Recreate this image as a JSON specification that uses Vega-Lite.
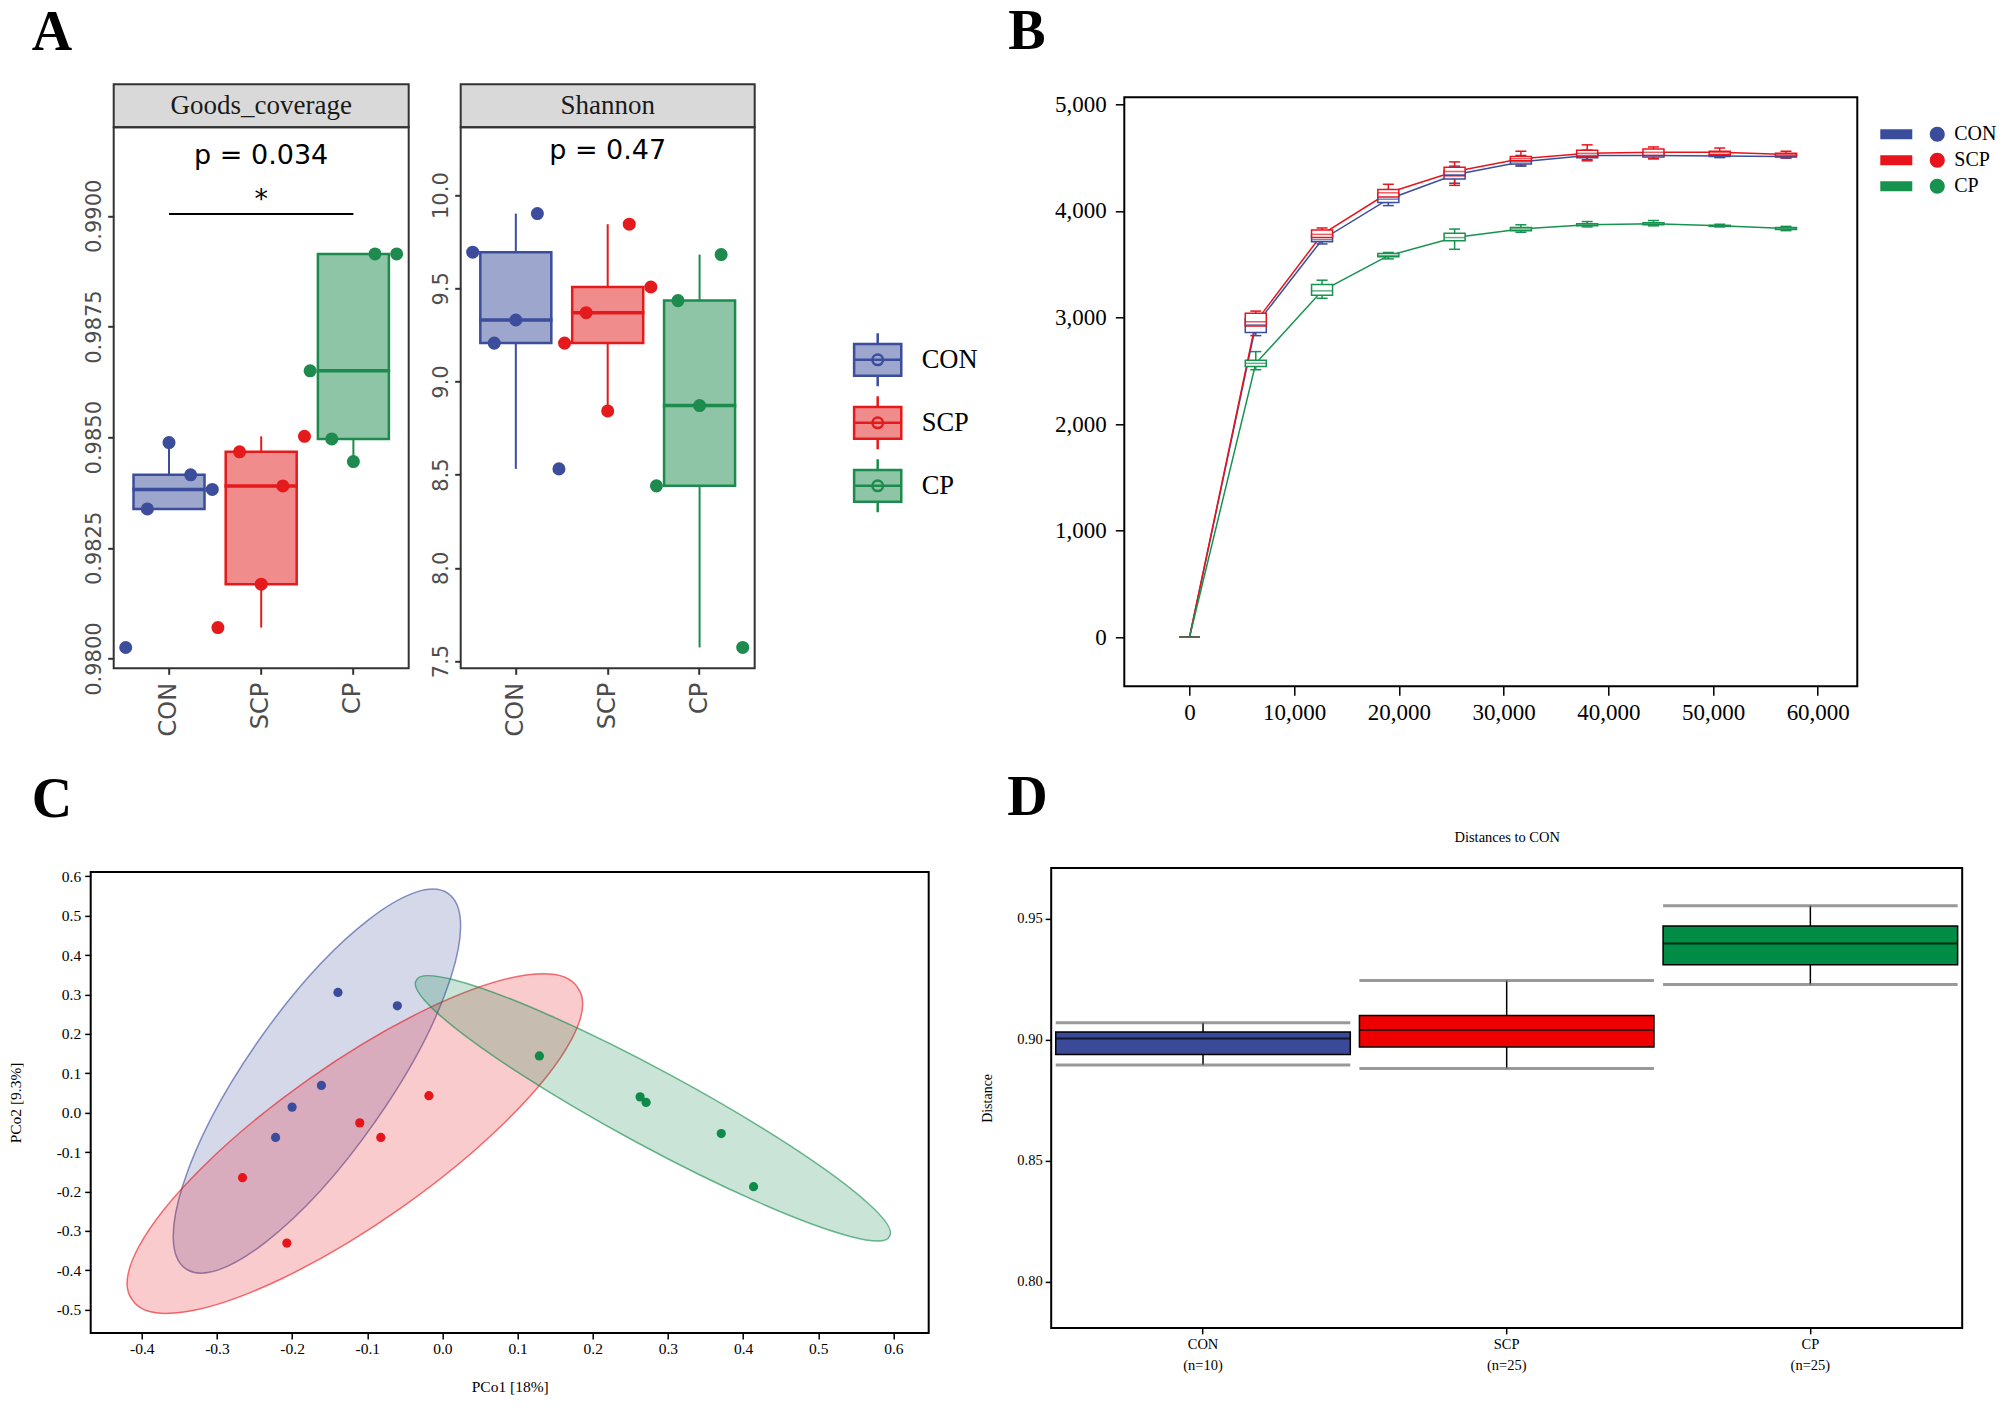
{
  "$schema": "https://vega.github.io/schema/vega-lite/v6.json",
  "background": "white",
  "padding": {"left": 6.7, "top": 2.3, "right": 0, "bottom": 0},
  "spacing": 30.6,
  "resolve": {
    "scale": {"color": "independent", "stroke": "independent", "shape": "independent", "xOffset": "independent"},
    "legend": {"color": "independent", "stroke": "independent", "shape": "independent"}
  },
  "config": {
    "view": {"stroke": null},
    "axis": {"grid": false, "domain": false, "labelColor": "#000", "tickColor": "#000", "titleColor": "#000", "titleFontWeight": "normal"},
    "title": {"color": "#000"}
  },
  "vconcat": [
    {
      "spacing": 28.6,
      "resolve": {
        "scale": {"color": "independent", "stroke": "independent", "shape": "independent", "xOffset": "independent"},
        "legend": {"color": "independent", "stroke": "independent", "shape": "independent"}
      },
      "hconcat": [
        {
          "columns": 4,
          "bounds": "flush",
          "spacing": 0,
          "resolve": {
            "scale": {"x": "independent", "y": "independent", "color": "independent", "stroke": "independent", "xOffset": "independent"},
            "legend": {"color": "independent", "stroke": "independent"}
          },
          "concat": [
            {"width": 23, "height": 43, "data": {"values": [{"s": 0}]}, "mark": {"type": "text", "text": " "}},
            {
              "width": 295, "height": 43,
              "view": {"fill": "#d9d9d9", "stroke": "#333333", "strokeWidth": 2},
              "title": {"text": "A", "anchor": "start", "frame": "group", "dx": -82, "offset": -21.2, "baseline": "alphabetic", "font": "Liberation Serif", "fontSize": 56, "fontWeight": "bold"},
              "data": {"values": [{"facet": "Goods_coverage"}]},
              "mark": {"type": "text", "font": "Liberation Serif", "fontSize": 27, "color": "#1a1a1a"},
              "encoding": {"text": {"field": "facet", "type": "nominal"}}
            },
            {"width": 52, "height": 43, "data": {"values": [{"s": 0}]}, "mark": {"type": "text", "text": " "}},
            {
              "width": 294, "height": 43,
              "view": {"fill": "#d9d9d9", "stroke": "#333333", "strokeWidth": 2},
              "data": {"values": [{"facet": "Shannon"}]},
              "mark": {"type": "text", "font": "Liberation Serif", "fontSize": 27, "color": "#1a1a1a"},
              "encoding": {"text": {"field": "facet", "type": "nominal"}}
            },
            {"width": 23, "height": 541, "data": {"values": [{"s": 0}]}, "mark": {"type": "text", "text": " "}},
            {
              "width": 295, "height": 541,
              "view": {"stroke": "#333333", "strokeWidth": 2},
              "data": {"values": [
                {"group": "CON", "rep": 1, "value": 0.98025},
                {"group": "CON", "rep": 2, "value": 0.98338},
                {"group": "CON", "rep": 3, "value": 0.98488},
                {"group": "CON", "rep": 4, "value": 0.98415},
                {"group": "CON", "rep": 5, "value": 0.98382},
                {"group": "SCP", "rep": 1, "value": 0.98070},
                {"group": "SCP", "rep": 2, "value": 0.98467},
                {"group": "SCP", "rep": 3, "value": 0.98168},
                {"group": "SCP", "rep": 4, "value": 0.98390},
                {"group": "SCP", "rep": 5, "value": 0.98502},
                {"group": "CP", "rep": 1, "value": 0.98650},
                {"group": "CP", "rep": 2, "value": 0.98496},
                {"group": "CP", "rep": 3, "value": 0.98445},
                {"group": "CP", "rep": 4, "value": 0.98914},
                {"group": "CP", "rep": 5, "value": 0.98914}
              ]},
              "encoding": {
                "x": {"field": "group", "type": "nominal", "scale": {"domain": ["CON", "SCP", "CP"], "paddingInner": 0, "paddingOuter": 0.1},
                      "axis": {"title": null, "labelAngle": 270, "labelAlign": "right", "labelBaseline": "middle", "labelFont": "DejaVu Sans", "labelFontSize": 24, "labelColor": "#4d4d4d", "tickColor": "#333333", "tickSize": 6, "tickWidth": 2, "labelPadding": 8}},
                "y": {"field": "value", "type": "quantitative", "scale": {"domain": [0.97978, 0.992], "zero": false, "nice": false},
                      "axis": {"title": null, "values": [0.98, 0.9825, 0.985, 0.9875, 0.99], "format": ".4f", "labelAngle": 270, "labelAlign": "center", "labelBaseline": "bottom", "labelFont": "DejaVu Sans", "labelFontSize": 21, "labelColor": "#4d4d4d", "tickColor": "#333333", "tickSize": 6, "tickWidth": 2, "labelPadding": 3}}
              },
              "layer": [
                {
                  "mark": {"type": "boxplot", "extent": 1.5, "size": 71, "outliers": false, "box": {"fillOpacity": 0.5, "strokeWidth": 2.5}, "median": {"fillOpacity": 0, "strokeWidth": 2.5, "thickness": 1}, "rule": {"strokeWidth": 2}},
                  "encoding": {
                    "color": {"field": "group", "type": "nominal", "scale": {"domain": ["CON", "SCP", "CP"], "range": ["#3B4D9B", "#E41A1C", "#1C8B4D"]}, "legend": null},
                    "stroke": {"field": "group", "type": "nominal", "scale": {"domain": ["CON", "SCP", "CP"], "range": ["#3B4D9B", "#E41A1C", "#1C8B4D"]}, "legend": null}
                  }
                },
                {
                  "mark": {"type": "circle", "size": 170, "opacity": 1},
                  "encoding": {
                    "xOffset": {"field": "rep", "type": "ordinal", "scale": {"paddingInner": 0, "paddingOuter": 0.13}},
                    "color": {"field": "group", "type": "nominal", "scale": {"domain": ["CON", "SCP", "CP"], "range": ["#3B4D9B", "#E41A1C", "#1C8B4D"]}, "legend": null}
                  }
                },
                {
                  "data": {"values": [{"group": "CON", "group2": "CP", "value": 0.99004}]},
                  "mark": {"type": "rule", "strokeWidth": 2, "color": "#000"},
                  "encoding": {"x2": {"field": "group2"}}
                },
                {
                  "data": {"values": [{"group": "SCP", "value": 0.99035, "label": "*"}, {"group": "SCP", "value": 0.99135, "label": "p = 0.034"}]},
                  "mark": {"type": "text", "font": "DejaVu Sans", "fontSize": 27, "color": "#000"},
                  "encoding": {"text": {"field": "label", "type": "nominal"}}
                }
              ]
            },
            {"width": 52, "height": 541, "data": {"values": [{"s": 0}]}, "mark": {"type": "text", "text": " "}},
            {
              "width": 294, "height": 541,
              "view": {"stroke": "#333333", "strokeWidth": 2},
              "data": {"values": [
                {"group": "CON", "rep": 1, "value": 9.694},
                {"group": "CON", "rep": 2, "value": 9.206},
                {"group": "CON", "rep": 3, "value": 9.330},
                {"group": "CON", "rep": 4, "value": 9.901},
                {"group": "CON", "rep": 5, "value": 8.531},
                {"group": "SCP", "rep": 1, "value": 9.206},
                {"group": "SCP", "rep": 2, "value": 9.369},
                {"group": "SCP", "rep": 3, "value": 8.842},
                {"group": "SCP", "rep": 4, "value": 9.844},
                {"group": "SCP", "rep": 5, "value": 9.507},
                {"group": "CP", "rep": 1, "value": 8.440},
                {"group": "CP", "rep": 2, "value": 9.434},
                {"group": "CP", "rep": 3, "value": 8.871},
                {"group": "CP", "rep": 4, "value": 9.681},
                {"group": "CP", "rep": 5, "value": 7.573}
              ]},
              "encoding": {
                "x": {"field": "group", "type": "nominal", "scale": {"domain": ["CON", "SCP", "CP"], "paddingInner": 0, "paddingOuter": 0.1},
                      "axis": {"title": null, "labelAngle": 270, "labelAlign": "right", "labelBaseline": "middle", "labelFont": "DejaVu Sans", "labelFontSize": 24, "labelColor": "#4d4d4d", "tickColor": "#333333", "tickSize": 6, "tickWidth": 2, "labelPadding": 8}},
                "y": {"field": "value", "type": "quantitative", "scale": {"domain": [7.461, 10.364], "zero": false, "nice": false},
                      "axis": {"title": null, "values": [7.5, 8, 8.5, 9, 9.5, 10], "format": ".1f", "labelAngle": 270, "labelAlign": "center", "labelBaseline": "bottom", "labelFont": "DejaVu Sans", "labelFontSize": 21, "labelColor": "#4d4d4d", "tickColor": "#333333", "tickSize": 6, "tickWidth": 2, "labelPadding": 3}}
              },
              "layer": [
                {
                  "mark": {"type": "boxplot", "extent": 1.5, "size": 71, "outliers": false, "box": {"fillOpacity": 0.5, "strokeWidth": 2.5}, "median": {"fillOpacity": 0, "strokeWidth": 2.5, "thickness": 1}, "rule": {"strokeWidth": 2}},
                  "encoding": {
                    "color": {"field": "group", "type": "nominal", "scale": {"domain": ["CON", "SCP", "CP"], "range": ["#3B4D9B", "#E41A1C", "#1C8B4D"]},
                              "legend": {"orient": "none", "legendX": 389, "legendY": 204.5, "title": null, "symbolType": "M-0.89,-0.6H0.89V0.6H-0.89ZM-0.89,0H0.89M0,-0.6V-1M0,0.6V1M0.2,0A0.2,0.2,0,1,1,-0.2,0A0.2,0.2,0,1,1,0.2,0Z", "symbolSize": 2809, "symbolStrokeWidth": 2.5, "labelFont": "Liberation Serif", "labelFontSize": 26.5, "labelColor": "#000", "rowPadding": -1, "labelOffset": 16, "padding": 0, "symbolOpacity": 1, "encode": {"symbols": {"update": {"fillOpacity": {"value": 0.5}}}}}},
                    "stroke": {"field": "group", "type": "nominal", "scale": {"domain": ["CON", "SCP", "CP"], "range": ["#3B4D9B", "#E41A1C", "#1C8B4D"]},
                              "legend": {"orient": "none", "legendX": 389, "legendY": 204.5, "title": null, "symbolType": "M-0.89,-0.6H0.89V0.6H-0.89ZM-0.89,0H0.89M0,-0.6V-1M0,0.6V1M0.2,0A0.2,0.2,0,1,1,-0.2,0A0.2,0.2,0,1,1,0.2,0Z", "symbolSize": 2809, "symbolStrokeWidth": 2.5, "labelFont": "Liberation Serif", "labelFontSize": 26.5, "labelColor": "#000", "rowPadding": -1, "labelOffset": 16, "padding": 0, "symbolOpacity": 1, "encode": {"symbols": {"update": {"fillOpacity": {"value": 0.5}}}}}}
                  }
                },
                {
                  "mark": {"type": "circle", "size": 170, "opacity": 1},
                  "encoding": {
                    "xOffset": {"field": "rep", "type": "ordinal", "scale": {"paddingInner": 0, "paddingOuter": 0.13}},
                    "color": {"field": "group", "type": "nominal", "scale": {"domain": ["CON", "SCP", "CP"], "range": ["#3B4D9B", "#E41A1C", "#1C8B4D"]},
                              "legend": {"orient": "none", "legendX": 389, "legendY": 204.5, "title": null, "symbolType": "M-0.89,-0.6H0.89V0.6H-0.89ZM-0.89,0H0.89M0,-0.6V-1M0,0.6V1M0.2,0A0.2,0.2,0,1,1,-0.2,0A0.2,0.2,0,1,1,0.2,0Z", "symbolSize": 2809, "symbolStrokeWidth": 2.5, "labelFont": "Liberation Serif", "labelFontSize": 26.5, "labelColor": "#000", "rowPadding": -1, "labelOffset": 16, "padding": 0, "symbolOpacity": 1, "encode": {"symbols": {"update": {"fillOpacity": {"value": 0.5}}}}}}
                  }
                },
                {
                  "data": {"values": [{"group": "SCP", "value": 10.239, "label": "p = 0.47"}]},
                  "mark": {"type": "text", "font": "DejaVu Sans", "fontSize": 27, "color": "#000"},
                  "encoding": {"text": {"field": "label", "type": "nominal"}}
                }
              ]
            }
          ]
        },
        {
          "bounds": "flush",
          "spacing": 0,
          "vconcat": [
            {"width": 733, "height": 13, "data": {"values": [{"s": 0}]}, "mark": {"type": "text", "text": " "}},
            {
              "width": 733, "height": 589,
              "view": {"stroke": "#000", "strokeWidth": 2},
              "title": {"text": "B", "anchor": "start", "frame": "group", "dx": -116, "offset": -11.9, "baseline": "alphabetic", "font": "Liberation Serif", "fontSize": 56, "fontWeight": "bold"},
              "data": {"values": [
                {"depth": 0, "group": "CON", "min": 0, "q1": 0, "median": 0, "q3": 0, "max": 0},
                {"depth": 6330, "group": "CON", "min": 2830, "q1": 2860, "median": 2930, "q3": 2990, "max": 3010},
                {"depth": 12660, "group": "CON", "min": 3690, "q1": 3710, "median": 3730, "q3": 3770, "max": 3790},
                {"depth": 18990, "group": "CON", "min": 4050, "q1": 4080, "median": 4110, "q3": 4160, "max": 4200},
                {"depth": 25320, "group": "CON", "min": 4260, "q1": 4300, "median": 4340, "q3": 4380, "max": 4420},
                {"depth": 31650, "group": "CON", "min": 4420, "q1": 4440, "median": 4460, "q3": 4490, "max": 4520},
                {"depth": 37980, "group": "CON", "min": 4480, "q1": 4500, "median": 4520, "q3": 4540, "max": 4570},
                {"depth": 44310, "group": "CON", "min": 4490, "q1": 4505, "median": 4520, "q3": 4540, "max": 4560},
                {"depth": 50640, "group": "CON", "min": 4500, "q1": 4510, "median": 4515, "q3": 4525, "max": 4540},
                {"depth": 56970, "group": "CON", "min": 4495, "q1": 4505, "median": 4510, "q3": 4520, "max": 4535},
                {"depth": 0, "group": "SCP", "min": 0, "q1": 0, "median": 0, "q3": 0, "max": 0},
                {"depth": 6330, "group": "SCP", "min": 2900, "q1": 2920, "median": 2960, "q3": 3040, "max": 3060},
                {"depth": 12660, "group": "SCP", "min": 3720, "q1": 3750, "median": 3780, "q3": 3820, "max": 3840},
                {"depth": 18990, "group": "SCP", "min": 4080, "q1": 4130, "median": 4170, "q3": 4200, "max": 4250},
                {"depth": 25320, "group": "SCP", "min": 4240, "q1": 4330, "median": 4370, "q3": 4410, "max": 4460},
                {"depth": 31650, "group": "SCP", "min": 4430, "q1": 4470, "median": 4490, "q3": 4510, "max": 4560},
                {"depth": 37980, "group": "SCP", "min": 4470, "q1": 4510, "median": 4540, "q3": 4570, "max": 4620},
                {"depth": 44310, "group": "SCP", "min": 4490, "q1": 4520, "median": 4550, "q3": 4580, "max": 4600},
                {"depth": 50640, "group": "SCP", "min": 4510, "q1": 4530, "median": 4550, "q3": 4560, "max": 4590},
                {"depth": 56970, "group": "SCP", "min": 4500, "q1": 4515, "median": 4530, "q3": 4540, "max": 4560},
                {"depth": 0, "group": "CP", "min": 0, "q1": 0, "median": 0, "q3": 0, "max": 0},
                {"depth": 6330, "group": "CP", "min": 2510, "q1": 2540, "median": 2570, "q3": 2600, "max": 2680},
                {"depth": 12660, "group": "CP", "min": 3180, "q1": 3210, "median": 3250, "q3": 3310, "max": 3350},
                {"depth": 18990, "group": "CP", "min": 3550, "q1": 3570, "median": 3580, "q3": 3600, "max": 3610},
                {"depth": 25320, "group": "CP", "min": 3640, "q1": 3720, "median": 3750, "q3": 3790, "max": 3830},
                {"depth": 31650, "group": "CP", "min": 3800, "q1": 3815, "median": 3830, "q3": 3845, "max": 3870},
                {"depth": 37980, "group": "CP", "min": 3850, "q1": 3860, "median": 3870, "q3": 3880, "max": 3900},
                {"depth": 44310, "group": "CP", "min": 3860, "q1": 3870, "median": 3880, "q3": 3890, "max": 3910},
                {"depth": 50640, "group": "CP", "min": 3850, "q1": 3855, "median": 3860, "q3": 3865, "max": 3875},
                {"depth": 56970, "group": "CP", "min": 3815, "q1": 3825, "median": 3835, "q3": 3845, "max": 3855}
              ]},
              "encoding": {
                "x": {"field": "depth", "type": "quantitative", "scale": {"domain": [-5750, 63300], "nice": false, "zero": false},
                      "axis": {"title": null, "values": [0, 10000, 20000, 30000, 40000, 50000, 60000], "format": ",.0f", "labelFont": "Liberation Serif", "labelFontSize": 23, "tickSize": 9, "tickWidth": 1.5, "labelPadding": 6}},
                "color": {"field": "group", "type": "nominal", "scale": {"domain": ["CON", "SCP", "CP"], "range": ["#3A4D9C", "#E8141B", "#17924F"]},
                          "legend": {"orient": "none", "legendX": 803, "legendY": 40, "title": null, "symbolType": "M-5.7,-0.5H-2.5V0.5H-5.7ZM0.75,0A0.75,0.75,0,1,1,-0.75,0A0.75,0.75,0,1,1,0.75,0Z", "symbolSize": 400, "symbolStrokeWidth": 0, "symbolOpacity": 1, "labelFont": "Liberation Serif", "labelFontSize": 20, "labelColor": "#000", "rowPadding": 6, "labelOffset": 7, "padding": 0}}
              },
              "layer": [
                {"mark": {"type": "tick", "orient": "horizontal", "size": 11, "thickness": 1.5, "opacity": 1},
                 "encoding": {"y": {"field": "min", "type": "quantitative", "scale": {"domain": [-460, 5066], "nice": false, "zero": false}, "axis": {"title": null, "values": [0, 1000, 2000, 3000, 4000, 5000], "format": ",.0f", "labelFont": "Liberation Serif", "labelFontSize": 23, "tickSize": 9, "tickWidth": 1.5, "labelPadding": 9}}}},
                {"mark": {"type": "tick", "orient": "horizontal", "size": 11, "thickness": 1.5, "opacity": 1},
                 "encoding": {"y": {"field": "max", "type": "quantitative", "scale": {"domain": [-460, 5066], "nice": false, "zero": false}, "axis": {"title": null, "values": [0, 1000, 2000, 3000, 4000, 5000], "format": ",.0f", "labelFont": "Liberation Serif", "labelFontSize": 23, "tickSize": 9, "tickWidth": 1.5, "labelPadding": 9}}}},
                {"mark": {"type": "line", "strokeWidth": 1.5},
                 "encoding": {"y": {"field": "median", "type": "quantitative", "scale": {"domain": [-460, 5066], "nice": false, "zero": false}, "axis": {"title": null, "values": [0, 1000, 2000, 3000, 4000, 5000], "format": ",.0f", "labelFont": "Liberation Serif", "labelFontSize": 23, "tickSize": 9, "tickWidth": 1.5, "labelPadding": 9}}}},
                {"mark": {"type": "rule", "strokeWidth": 1.5},
                 "encoding": {"y": {"field": "min", "type": "quantitative", "scale": {"domain": [-460, 5066], "nice": false, "zero": false}, "axis": {"title": null, "values": [0, 1000, 2000, 3000, 4000, 5000], "format": ",.0f", "labelFont": "Liberation Serif", "labelFontSize": 23, "tickSize": 9, "tickWidth": 1.5, "labelPadding": 9}}, "y2": {"field": "max"}}},
                {"mark": {"type": "bar", "width": 21, "filled": false, "fill": "white", "strokeWidth": 1.5},
                 "encoding": {"y": {"field": "q1", "type": "quantitative", "scale": {"domain": [-460, 5066], "nice": false, "zero": false}, "axis": {"title": null, "values": [0, 1000, 2000, 3000, 4000, 5000], "format": ",.0f", "labelFont": "Liberation Serif", "labelFontSize": 23, "tickSize": 9, "tickWidth": 1.5, "labelPadding": 9}}, "y2": {"field": "q3"}}},
                {"mark": {"type": "tick", "orient": "horizontal", "size": 21, "thickness": 1.5},
                 "encoding": {"y": {"field": "median", "type": "quantitative", "scale": {"domain": [-460, 5066], "nice": false, "zero": false}, "axis": {"title": null, "values": [0, 1000, 2000, 3000, 4000, 5000], "format": ",.0f", "labelFont": "Liberation Serif", "labelFontSize": 23, "tickSize": 9, "tickWidth": 1.5, "labelPadding": 9}}}}
              ]
            }
          ]
        }
      ]
    },
    {
      "spacing": 49.5,
      "resolve": {
        "scale": {"color": "independent", "stroke": "independent", "shape": "independent"},
        "legend": {"color": "independent", "stroke": "independent", "shape": "independent"}
      },
      "hconcat": [
        {
          "bounds": "flush",
          "spacing": 0,
          "vconcat": [
            {"width": 838, "height": 4, "data": {"values": [{"s": 0}]}, "mark": {"type": "text", "text": " "}},
            {
              "width": 838, "height": 461,
              "view": {"stroke": "#000", "strokeWidth": 2},
              "title": {"text": "C", "anchor": "start", "frame": "group", "dx": -59, "offset": -4, "baseline": "alphabetic", "font": "Liberation Serif", "fontSize": 56, "fontWeight": "bold"},
              "encoding": {
                "x": {"field": "pc1", "type": "quantitative", "scale": {"domain": [-0.468, 0.647], "nice": false, "zero": false},
                      "axis": {"title": "PCo1 [18%]", "values": [-0.4, -0.3, -0.2, -0.1, 0, 0.1, 0.2, 0.3, 0.4, 0.5, 0.6], "format": ".1f", "labelExpr": "replace(datum.label, '\u2212', '-')", "labelFont": "Liberation Serif", "labelFontSize": 15.5, "titleFont": "Liberation Serif", "titleFontSize": 15.5, "tickSize": 6, "tickWidth": 1.5, "labelPadding": 3, "titlePadding": 22}},
                "y": {"field": "pc2", "type": "quantitative", "scale": {"domain": [-0.559, 0.611], "nice": false, "zero": false},
                      "axis": {"title": "PCo2 [9.3%]", "values": [-0.5, -0.4, -0.3, -0.2, -0.1, 0, 0.1, 0.2, 0.3, 0.4, 0.5, 0.6], "format": ".1f", "labelExpr": "replace(datum.label, '\u2212', '-')", "labelFont": "Liberation Serif", "labelFontSize": 15.5, "titleFont": "Liberation Serif", "titleFontSize": 15.5, "tickSize": 6, "tickWidth": 1.5, "labelPadding": 4, "titlePadding": 33}},
                "color": {"field": "group", "type": "nominal", "scale": {"domain": ["CON", "SCP", "CP"], "range": ["#3A4D9C", "#E8141B", "#0F8A48"]}, "legend": null}
              },
              "layer": [
                {
                  "data": {"values": [
                    {"group": "CON", "pc1": -0.167, "pc2": 0.080},
                    {"group": "SCP", "pc1": -0.1165, "pc2": -0.0785},
                    {"group": "CP", "pc1": 0.280, "pc2": 0.011}
                  ]},
                  "mark": {"type": "point", "filled": true, "clip": true, "size": 4, "opacity": 1, "fillOpacity": 0.22, "strokeOpacity": 0.6, "strokeWidth": 1.5},
                  "encoding": {
                    "shape": {"field": "group", "type": "nominal", "scale": {"domain": ["CON", "SCP", "CP"], "range": [
                      "M131.4,-187.6A229,71,-55,1,1,-131.4,187.6A229,71,-55,1,1,131.4,-187.6Z",
                      "M222.5,-156.4A272,78,-35.1,1,1,-222.5,156.4A272,78,-35.1,1,1,222.5,-156.4Z",
                      "M236.6,127.9A269,37,28.4,1,1,-236.6,-127.9A269,37,28.4,1,1,236.6,127.9Z"
                    ]}, "legend": null},
                    "stroke": {"field": "group", "type": "nominal", "scale": {"domain": ["CON", "SCP", "CP"], "range": ["#3A4D9C", "#E8141B", "#0F8A48"]}, "legend": null}
                  }
                },
                {
                  "data": {"values": [
                    {"group": "CON", "pc1": -0.139, "pc2": 0.305},
                    {"group": "CON", "pc1": -0.060, "pc2": 0.271},
                    {"group": "CON", "pc1": -0.161, "pc2": 0.069},
                    {"group": "CON", "pc1": -0.200, "pc2": 0.014},
                    {"group": "CON", "pc1": -0.222, "pc2": -0.063},
                    {"group": "SCP", "pc1": -0.018, "pc2": 0.043},
                    {"group": "SCP", "pc1": -0.110, "pc2": -0.026},
                    {"group": "SCP", "pc1": -0.082, "pc2": -0.063},
                    {"group": "SCP", "pc1": -0.266, "pc2": -0.165},
                    {"group": "SCP", "pc1": -0.207, "pc2": -0.331},
                    {"group": "CP", "pc1": 0.129, "pc2": 0.144},
                    {"group": "CP", "pc1": 0.263, "pc2": 0.040},
                    {"group": "CP", "pc1": 0.271, "pc2": 0.026},
                    {"group": "CP", "pc1": 0.371, "pc2": -0.053},
                    {"group": "CP", "pc1": 0.414, "pc2": -0.188}
                  ]},
                  "mark": {"type": "circle", "size": 85, "opacity": 1}
                }
              ]
            }
          ]
        },
        {
          "width": 911, "height": 460,
          "view": {"stroke": "#000", "strokeWidth": 2},
          "title": {"text": "D", "anchor": "start", "frame": "group", "dx": -44, "offset": -40.9, "baseline": "alphabetic", "font": "Liberation Serif", "fontSize": 56, "fontWeight": "bold"},
          "resolve": {"axis": {"x": "independent"}},
          "data": {"values": [
            {"label": "CON (n=10)", "group": "CON", "min": 0.8895, "q1": 0.8939, "median": 0.9005, "q3": 0.9032, "max": 0.907},
            {"label": "SCP (n=25)", "group": "SCP", "min": 0.8881, "q1": 0.8970, "median": 0.9040, "q3": 0.9100, "max": 0.9245},
            {"label": "CP (n=25)", "group": "CP", "min": 0.9228, "q1": 0.9310, "median": 0.9398, "q3": 0.9470, "max": 0.9554}
          ]},
          "layer": [
            {"mark": {"type": "rule", "color": "#000", "strokeWidth": 1.5},
             "encoding": {
               "x": {"field": "label", "type": "nominal", "sort": null, "scale": {"domain": ["CON (n=10)", "SCP (n=25)", "CP (n=25)"], "paddingInner": 0.03, "paddingOuter": 0.015},
                     "axis": {"title": null, "labelAngle": 0, "labelExpr": "split(datum.label, ' ')", "labelFont": "Liberation Serif", "labelFontSize": 14.5, "labelLineHeight": 21, "tickSize": 6, "tickWidth": 1.5, "labelPadding": 4}},
               "y": {"field": "min", "type": "quantitative", "scale": {"domain": [0.7809, 0.971], "nice": false, "zero": false}, "axis": {"title": "Distance", "values": [0.8, 0.85, 0.9, 0.95], "format": ".2f", "labelFont": "Liberation Serif", "labelFontSize": 14.5, "titleFont": "Liberation Serif", "titleFontSize": 14, "tickSize": 6, "tickWidth": 1.5, "labelPadding": 3, "titlePadding": 22}}, "y2": {"field": "max"}}},
            {"mark": {"type": "bar", "stroke": "#000", "strokeWidth": 1.5},
             "encoding": {
               "x": {"field": "label", "type": "nominal", "sort": null, "scale": {"domain": ["CON (n=10)", "SCP (n=25)", "CP (n=25)"], "paddingInner": 0.03, "paddingOuter": 0.015}, "axis": null},
               "y": {"field": "q1", "type": "quantitative", "scale": {"domain": [0.7809, 0.971], "nice": false, "zero": false}, "axis": {"title": "Distance", "values": [0.8, 0.85, 0.9, 0.95], "format": ".2f", "labelFont": "Liberation Serif", "labelFontSize": 14.5, "titleFont": "Liberation Serif", "titleFontSize": 14, "tickSize": 6, "tickWidth": 1.5, "labelPadding": 3, "titlePadding": 22}}, "y2": {"field": "q3"},
               "color": {"field": "group", "type": "nominal", "scale": {"domain": ["CON", "SCP", "CP"], "range": ["#3A4A98", "#EE0000", "#008C45"]}, "legend": null}}},
            {"mark": {"type": "tick", "orient": "horizontal", "color": "#000", "size": 294.6, "thickness": 2},
             "encoding": {
               "x": {"field": "label", "type": "nominal", "sort": null, "scale": {"domain": ["CON (n=10)", "SCP (n=25)", "CP (n=25)"], "paddingInner": 0.03, "paddingOuter": 0.015},
                     "axis": {"orient": "top", "labels": false, "ticks": false, "domain": false, "title": "Distances to CON", "titleFont": "Liberation Serif", "titleFontSize": 14.5, "titlePadding": 23}},
               "y": {"field": "median", "type": "quantitative", "scale": {"domain": [0.7809, 0.971], "nice": false, "zero": false}, "axis": {"title": "Distance", "values": [0.8, 0.85, 0.9, 0.95], "format": ".2f", "labelFont": "Liberation Serif", "labelFontSize": 14.5, "titleFont": "Liberation Serif", "titleFontSize": 14, "tickSize": 6, "tickWidth": 1.5, "labelPadding": 3, "titlePadding": 22}}}},
            {"mark": {"type": "tick", "orient": "horizontal", "color": "#6e6e6e", "size": 294.6, "thickness": 3},
             "encoding": {
               "x": {"field": "label", "type": "nominal", "sort": null, "scale": {"domain": ["CON (n=10)", "SCP (n=25)", "CP (n=25)"], "paddingInner": 0.03, "paddingOuter": 0.015}, "axis": null},
               "y": {"field": "min", "type": "quantitative", "scale": {"domain": [0.7809, 0.971], "nice": false, "zero": false}, "axis": {"title": "Distance", "values": [0.8, 0.85, 0.9, 0.95], "format": ".2f", "labelFont": "Liberation Serif", "labelFontSize": 14.5, "titleFont": "Liberation Serif", "titleFontSize": 14, "tickSize": 6, "tickWidth": 1.5, "labelPadding": 3, "titlePadding": 22}}}},
            {"mark": {"type": "tick", "orient": "horizontal", "color": "#6e6e6e", "size": 294.6, "thickness": 3},
             "encoding": {
               "x": {"field": "label", "type": "nominal", "sort": null, "scale": {"domain": ["CON (n=10)", "SCP (n=25)", "CP (n=25)"], "paddingInner": 0.03, "paddingOuter": 0.015}, "axis": null},
               "y": {"field": "max", "type": "quantitative", "scale": {"domain": [0.7809, 0.971], "nice": false, "zero": false}, "axis": {"title": "Distance", "values": [0.8, 0.85, 0.9, 0.95], "format": ".2f", "labelFont": "Liberation Serif", "labelFontSize": 14.5, "titleFont": "Liberation Serif", "titleFontSize": 14, "tickSize": 6, "tickWidth": 1.5, "labelPadding": 3, "titlePadding": 22}}}}
          ]
        }
      ]
    }
  ]
}
